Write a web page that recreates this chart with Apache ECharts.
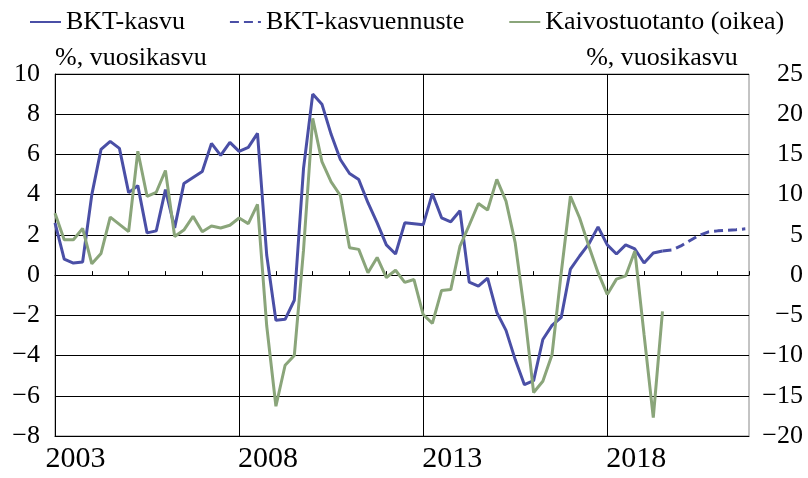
<!DOCTYPE html>
<html>
<head>
<meta charset="utf-8">
<script src="https://cdn.jsdelivr.net/npm/echarts@6/dist/echarts.min.js"></script>
<style>
  html, body { margin: 0; padding: 0; background: #fff; }
  #chart { width: 808px; height: 478px; }
</style>
</head>
<body>
<div id="chart"></div>
<script>
// quarterly data, index 0 = 2003Q1
const START_YEAR = 2003;
const yearLabels = ["2003", "2008", "2013", "2018"];

const gdpGrowth = [
  2.6, 0.8, 0.6, 0.65, 4.0, 6.25, 6.65, 6.3,
  4.1, 4.45, 2.1, 2.2, 4.25, 2.35, 4.55, 4.85,
  5.15, 6.55, 5.95, 6.6, 6.15, 6.35, 7.05, 1.0,
  -2.25, -2.2, -1.25, 5.3, 9.0, 8.5, 7.0, 5.75,
  5.05, 4.75, 3.6, 2.6, 1.5, 1.05, 2.6, 2.55,
  2.5, 4.05, 2.85, 2.65, 3.2, -0.35, -0.55, -0.15,
  -1.85, -2.75, -4.2, -5.45, -5.25, -3.2, -2.5, -2.1,
  0.3, 0.95, 1.55, 2.4, 1.5, 1.05, 1.5, 1.3,
  0.6, 1.1, 1.2
];

// forecast starts at the last actual quarter
const forecastStart = 66;
const gdpForecast = [1.2, 1.25, 1.45, 1.72, 1.98, 2.15, 2.2, 2.23, 2.26, 2.3];

const miningOutput = [
  7.7, 4.4, 4.4, 5.8, 1.4, 2.7, 7.2, 6.3,
  5.4, 15.4, 9.8, 10.3, 13.0, 4.8, 5.6, 7.3,
  5.4, 6.1, 5.85, 6.2, 7.1, 6.4, 8.8, -6.3,
  -16.3, -11.2, -10.0, 3.1, 19.5, 14.1, 11.6, 9.9,
  3.4, 3.2, 0.3, 2.2, -0.3, 0.6, -0.9, -0.55,
  -4.9, -6.0, -1.9, -1.8, 3.6, 6.2, 8.9, 8.1,
  11.9, 9.2, 4.0, -4.5, -14.6, -13.2, -9.9, 0.3,
  9.8, 7.1, 3.6, 0.3, -2.4, -0.5, -0.1, 3.0,
  -7.4, -17.7, -4.5
];

const BLUE = "#4a4fa6";
const GREEN = "#8aa57a";
const FONT = "'Liberation Serif', 'Times New Roman', serif";

function toPoints(values, offset) {
  return values.map((v, i) => [i + offset, v]);
}

function minusSign(value) {
  return String(value).replace("-", "\u2212");
}

const chart = echarts.init(document.getElementById("chart"), null, { renderer: "canvas" });

chart.setOption({
  backgroundColor: "#fff",
  animation: false,
  textStyle: { fontFamily: FONT, color: "#000" },
  legend: {
    top: 4,
    left: 24,
    itemWidth: 31,
    itemHeight: 14,
    itemGap: 44,
    itemStyle: { opacity: 0 },
    textStyle: { fontSize: 26, fontFamily: FONT, color: "#000" },
    data: ["BKT-kasvu", "BKT-kasvuennuste", "Kaivostuotanto (oikea)"]
  },
  grid: {
    left: 55,
    right: 59,
    top: 74,
    bottom: 42,
    containLabel: false,
    outerBoundsMode: "none",
    show: true,
    borderColor: "#888",
    borderWidth: 1
  },
  xAxis: [
    {
      type: "value",
      min: 0,
      max: 75.4,
      interval: 20,
      axisLine: { onZero: false, lineStyle: { color: "#000", width: 1 } },
      axisTick: { show: false },
      splitLine: { show: true, showMaxLine: false, lineStyle: { color: "#000", width: 1 } },
      axisLabel: {
        showMaxLabel: false,
        align: "center",
        margin: 8,
        formatter: (value) => {
          if (value % 20 !== 0) return "";
          const label = yearLabels[value / 20];
          return value === 0 ? "{first|" + label + "}" : "{rest|" + label + "}";
        },
        rich: {
          first: { fontSize: 30, fontFamily: FONT, color: "#000", padding: [0, 0, 0, 41] },
          rest: { fontSize: 30, fontFamily: FONT, color: "#000", padding: [0, 0, 0, 58] }
        }
      }
    },
    {
      type: "value",
      min: 0,
      max: 75.4,
      interval: 4,
      position: "bottom",
      axisLine: { show: true, onZero: true, onZeroAxisIndex: 0, lineStyle: { color: "#000", width: 1 } },
      axisTick: { show: true, inside: true, length: 4, lineStyle: { color: "#000" } },
      axisLabel: { show: false },
      splitLine: { show: false }
    }
  ],
  yAxis: [
    {
      type: "value",
      position: "left",
      min: -8,
      max: 10,
      interval: 2,
      name: "%, vuosikasvu",
      nameLocation: "end",
      nameGap: 3,
      nameMoveOverlap: false,
      nameTextStyle: { fontSize: 26, fontFamily: FONT, color: "#000", align: "left", verticalAlign: "bottom" },
      axisLine: { show: true, lineStyle: { color: "#000", width: 1 } },
      axisTick: { show: false },
      splitLine: { show: true, lineStyle: { color: "#000", width: 1 } },
      axisLabel: { fontSize: 26, fontFamily: FONT, color: "#000", margin: 15, formatter: minusSign }
    },
    {
      type: "value",
      position: "right",
      min: -20,
      max: 25,
      interval: 5,
      name: "%, vuosikasvu",
      nameLocation: "end",
      nameGap: 3,
      nameMoveOverlap: false,
      nameTextStyle: { fontSize: 26, fontFamily: FONT, color: "#000", verticalAlign: "bottom", padding: [0, 174, 0, 0] },
      axisLine: { show: false, onZero: false },
      axisTick: { show: false },
      splitLine: { show: false },
      axisLabel: { fontSize: 26, fontFamily: FONT, color: "#000", margin: 54, align: "right", formatter: minusSign }
    }
  ],
  series: [
    {
      name: "BKT-kasvu",
      type: "line",
      xAxisIndex: 0,
      yAxisIndex: 0,
      symbol: "none",
      color: BLUE,
      lineStyle: { color: BLUE, width: 3 },
      data: toPoints(gdpGrowth, 0)
    },
    {
      name: "BKT-kasvuennuste",
      type: "line",
      xAxisIndex: 0,
      yAxisIndex: 0,
      symbol: "none",
      color: BLUE,
      lineStyle: { color: BLUE, width: 3, type: [9, 5] },
      data: toPoints(gdpForecast, forecastStart)
    },
    {
      name: "Kaivostuotanto (oikea)",
      type: "line",
      xAxisIndex: 0,
      yAxisIndex: 1,
      symbol: "none",
      color: GREEN,
      lineStyle: { color: GREEN, width: 3 },
      data: toPoints(miningOutput, 0)
    }
  ]
});
</script>
</body>
</html>
